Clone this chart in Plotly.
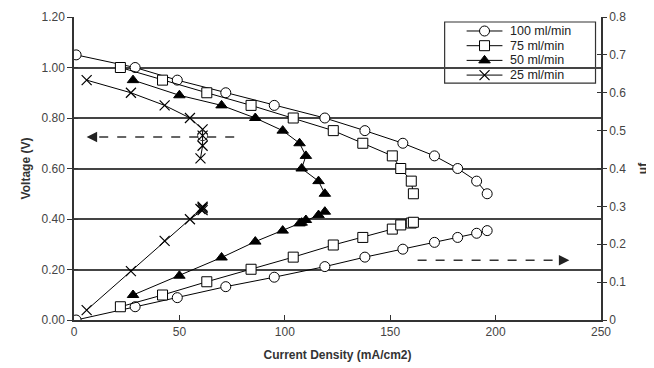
import plotly.graph_objects as go

# ---------------- data ----------------
x_tick_vals = [0, 50, 100, 150, 200, 250]
v_tick_vals = [0.0, 0.2, 0.4, 0.6, 0.8, 1.0, 1.2]
uf_tick_vals = [0, 0.1, 0.2, 0.3, 0.4, 0.5, 0.6, 0.7, 0.8]
uf_tick_text = ["0", "0.1", "0.2", "0.3", "0.4", "0.5", "0.6", "0.7", "0.8"]

series_names = ["100 ml/min", "75 ml/min", "50 ml/min", "25 ml/min"]

cd_100 = [1, 29, 49, 72, 95, 119, 138, 156, 171, 182, 191, 196]
volt_100 = [1.05, 1.00, 0.95, 0.90, 0.85, 0.80, 0.75, 0.70, 0.65, 0.60, 0.55, 0.50]
uf_100 = [0.0, 0.035, 0.059, 0.088, 0.113, 0.141, 0.166, 0.187, 0.205, 0.218, 0.229, 0.236]

cd_75 = [22, 42, 63, 84, 104, 123, 137, 151, 155, 160, 161]
volt_75 = [1.00, 0.95, 0.90, 0.85, 0.80, 0.75, 0.70, 0.65, 0.60, 0.55, 0.50]
uf_75 = [0.035, 0.066, 0.101, 0.134, 0.166, 0.198, 0.218, 0.240, 0.251, 0.256, 0.258]

cd_50 = [28, 50, 70, 86, 99, 107, 110, 108, 116, 119]
volt_50 = [0.95, 0.89, 0.85, 0.80, 0.75, 0.70, 0.65, 0.60, 0.55, 0.50]
uf_50 = [0.066, 0.117, 0.165, 0.207, 0.236, 0.255, 0.264, 0.257, 0.277, 0.286]

cd_25 = [6, 27, 43, 55, 61, 61, 61, 60]
volt_25 = [0.95, 0.90, 0.85, 0.80, 0.755, 0.73, 0.69, 0.64]
uf_25 = [0.026, 0.129, 0.209, 0.266, 0.290, 0.295, 0.299, 0.293]

# annotation arrows (data coords)
left_arrow_x = [76, 6]
left_arrow_v = 0.725
left_circle = (61, 0.73)
right_arrow_x = [163, 235]
right_arrow_uf = 0.158

# ---------------- styles ----------------
FONT = "Liberation Sans, Arial, sans-serif"
marker_styles = [
    dict(symbol="circle", size=10, color="white", line=dict(color="black", width=1)),
    dict(symbol="square", size=10, color="white", line=dict(color="black", width=1)),
    dict(symbol="triangle-up", size=10, color="black", line=dict(color="black", width=1)),
    dict(symbol="x-thin", size=10, color="black", line=dict(color="black", width=1.2)),
]

# legend layout (fractions of the plot area)
LEG_BOX = dict(x0=0.7033, x1=0.9896, y0=0.782, y1=0.9835)
LEG_TOP = 0.9538
LEG_STEP = 0.0485
LEG_LINE_X = (0.745, 0.813)
LEG_MARK_X = 0.779
LEG_TEXT_X = 0.8227

fig = go.Figure()

data_sets = [
    (cd_100, volt_100, uf_100),
    (cd_75, volt_75, uf_75),
    (cd_50, volt_50, uf_50),
    (cd_25, volt_25, uf_25),
]

for name, (cd, vv, uu), mk in zip(series_names, data_sets, marker_styles):
    fig.add_trace(go.Scatter(
        x=cd, y=vv, mode="lines+markers", name=name,
        line=dict(color="black", width=1), marker=mk,
        xaxis="x", yaxis="y", showlegend=False,
    ))
    fig.add_trace(go.Scatter(
        x=cd, y=uu, mode="lines+markers", name=name,
        line=dict(color="black", width=1), marker=mk,
        xaxis="x", yaxis="y2", showlegend=False,
    ))

tick_font = dict(family=FONT, size=12, color="#444")
title_font = dict(family=FONT, size=12, color="#333")

fig.update_layout(
    width=646, height=360,
    margin=dict(l=66, r=52.5, t=9, b=48, autoexpand=False),
    paper_bgcolor="white", plot_bgcolor="white",
    font=dict(family=FONT, size=12, color="#333"),
    showlegend=False,
    xaxis=dict(
        range=[0, 250], tickvals=x_tick_vals, ticks="inside", ticklen=5,
        tickcolor="#333", showline=True, linecolor="#333", linewidth=1.5,
        showgrid=False, zeroline=False, tickfont=tick_font, automargin=False,
        title=dict(text="<b>Current Density (mA/cm2)</b>", font=title_font, standoff=12),
    ),
    xaxis2=dict(range=[0, 1], overlaying="x", visible=False, fixedrange=True),
    yaxis=dict(
        range=[0, 1.2], tickvals=v_tick_vals, tickformat=".2f", ticks="outside",
        ticklen=5, tickcolor="#333", showline=True, linecolor="#333", linewidth=1.5,
        showgrid=True, gridcolor="#444", gridwidth=1.5, zeroline=False,
        tickfont=tick_font, automargin=False,
        title=dict(text="<b>Voltage (V)</b>", font=title_font, standoff=8),
    ),
    yaxis2=dict(
        range=[0, 0.8], tickvals=uf_tick_vals, ticktext=uf_tick_text, ticks="outside",
        ticklen=4, tickcolor="#333", overlaying="y", side="right",
        showline=True, linecolor="#333", linewidth=1.5, showgrid=False,
        zeroline=False, tickfont=tick_font, automargin=False,
        title=dict(text="<b>uf</b>", font=title_font, standoff=13),
    ),
    yaxis3=dict(
        range=[0, 1.2], tickvals=v_tick_vals, ticks="inside", ticklen=4,
        tickcolor="#333", overlaying="y", side="left", showticklabels=False,
        showline=False, showgrid=False, zeroline=False,
    ),
    yaxis4=dict(
        range=[0, 0.8], tickvals=uf_tick_vals, ticks="inside", ticklen=4,
        tickcolor="#333", overlaying="y", side="right", showticklabels=False,
        showline=False, showgrid=False, zeroline=False,
    ),
    yaxis5=dict(range=[0, 1], overlaying="y", visible=False, fixedrange=True),
)

fig.add_trace(go.Scatter(x=[None], y=[None], xaxis="x", yaxis="y3", showlegend=False, hoverinfo="skip"))
fig.add_trace(go.Scatter(x=[None], y=[None], xaxis="x", yaxis="y4", showlegend=False, hoverinfo="skip"))

# ---- custom legend (compact, like the original) ----
fig.add_shape(type="rect", xref="paper", yref="paper", layer="between",
              fillcolor="white", line=dict(color="#333", width=1.2), **LEG_BOX)
for i, (name, mk) in enumerate(zip(series_names, marker_styles)):
    ly = LEG_TOP - i * LEG_STEP
    fig.add_shape(type="line", xref="paper", yref="paper", layer="between",
                  x0=LEG_LINE_X[0], x1=LEG_LINE_X[1], y0=ly, y1=ly,
                  line=dict(color="black", width=1))
    fig.add_trace(go.Scatter(x=[LEG_MARK_X], y=[ly], mode="markers", marker=mk,
                             xaxis="x2", yaxis="y5", showlegend=False, hoverinfo="skip"))
    fig.add_annotation(xref="paper", yref="paper", x=LEG_TEXT_X, y=ly,
                       xanchor="left", yanchor="middle", showarrow=False, text=name,
                       font=dict(family=FONT, size=12.5, color="#222"))

# dashed arrows
fig.add_shape(type="line", xref="x", yref="y",
              x0=left_arrow_x[0], y0=left_arrow_v, x1=left_arrow_x[1] + 3, y1=left_arrow_v,
              line=dict(color="#333", width=1.5, dash="dash"))
fig.add_annotation(xref="x", yref="y", x=left_arrow_x[1], y=left_arrow_v,
                   ax=10, ay=0, showarrow=True, arrowhead=2, arrowsize=1.4,
                   arrowwidth=1.5, arrowcolor="#222", text="")
fig.add_shape(type="circle", xref="x", yref="y", xsizemode="pixel", ysizemode="pixel",
              xanchor=left_circle[0], yanchor=left_circle[1],
              x0=-5, x1=5, y0=-5, y1=5, line=dict(color="#333", width=1))

fig.add_shape(type="line", xref="x", yref="y2",
              x0=right_arrow_x[0], y0=right_arrow_uf, x1=right_arrow_x[1] - 3, y1=right_arrow_uf,
              line=dict(color="#333", width=1.5, dash="dash"))
fig.add_annotation(xref="x", yref="y2", x=right_arrow_x[1], y=right_arrow_uf,
                   ax=-10, ay=0, showarrow=True, arrowhead=2, arrowsize=1.4,
                   arrowwidth=1.5, arrowcolor="#222", text="")

fig.write_html("out.html")
